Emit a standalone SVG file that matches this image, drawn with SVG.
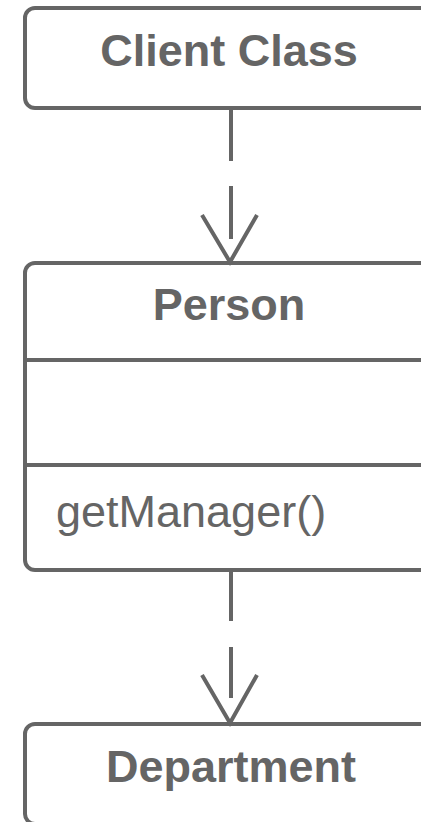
<svg xmlns="http://www.w3.org/2000/svg" width="421" height="822" viewBox="0 0 421 822">
<style>
.box{fill:#ffffff;stroke:#656565;stroke-width:4}
.div{stroke:#656565;stroke-width:4}
.conn{fill:none;stroke:#656565;stroke-width:4}
.title{font-family:"Liberation Sans",Arial,sans-serif;font-weight:bold;font-size:45px;fill:#656565;text-anchor:middle}
.member{font-family:"Liberation Sans",Arial,sans-serif;font-size:45px;fill:#656565}
</style>
<rect x="0" y="0" width="421" height="822" fill="#ffffff"/>
<g id="client-class">
<rect class="box" x="25" y="8" width="412" height="100" rx="10"/>
<text class="title" x="229" y="66">Client Class</text>
</g>
<g id="person">
<rect class="box" x="25" y="263" width="412" height="307" rx="10"/>
<line class="div" x1="25" y1="360" x2="437" y2="360"/>
<line class="div" x1="25" y1="465" x2="437" y2="465"/>
<text class="title" x="229" y="320">Person</text>
<text class="member" x="56" y="527">getManager()</text>
</g>
<g id="department">
<rect class="box" x="25" y="724" width="412" height="100" rx="10"/>
<text class="title" x="231" y="782">Department</text>
</g>
<g id="connectors">
<line class="conn" x1="231" y1="108" x2="231" y2="261" stroke-dasharray="53 25"/>
<polyline class="conn" points="202,215 230,262 257,215"/>
<line class="conn" x1="231" y1="570" x2="231" y2="722" stroke-dasharray="51 26"/>
<polyline class="conn" points="202,675 230,723 257,675"/>
</g>
</svg>
